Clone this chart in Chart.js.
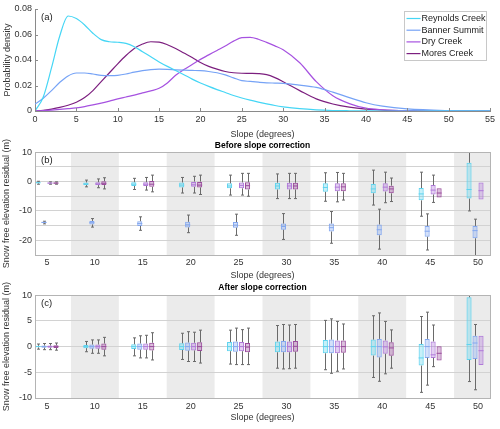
<!DOCTYPE html>
<html>
<head>
<meta charset="utf-8">
<script src="https://cdn.jsdelivr.net/npm/chart.js@4.4.0/dist/chart.umd.min.js"></script>
<style>
  html, body { margin: 0; padding: 0; background: #fff; }
  #wrap { position: relative; width: 500px; height: 429px; overflow: hidden; }
  canvas { position: absolute; left: 0; }
</style>
</head>
<body>
<div id="wrap">
  <canvas id="chartA" width="500" height="140" style="top:0"></canvas>
  <canvas id="chartB" width="500" height="146" style="top:135px"></canvas>
  <canvas id="chartC" width="500" height="148" style="top:281px"></canvas>
</div>
<script>
// ---- panel (a): slope distributions ----
const slope = [0,1,2,3,4,5,6,7,8,9,10,11,12,13,14,15,16,17,18,19,20,21,22,23,24,25,26,27,28,29,30,32,34,36,38,40,42,45,50,55];
const densReynolds = [0,0.011,0.034,0.059,0.0745,0.0725,0.0675,0.061,0.056,0.0543,0.0539,0.053,0.0504,0.0465,0.0425,0.0385,0.035,0.0318,0.0285,0.025,0.022,0.0193,0.0168,0.0145,0.0122,0.0102,0.0085,0.007,0.0056,0.0043,0.0033,0.0018,0.0009,0.0004,0.0002,0.0001,0,0,0,0];
const densBanner = [0.0055,0.010,0.016,0.0225,0.0275,0.0298,0.0298,0.029,0.028,0.0278,0.028,0.029,0.0305,0.0317,0.0325,0.0328,0.0327,0.0323,0.032,0.0318,0.0316,0.031,0.030,0.0283,0.026,0.0238,0.0232,0.0226,0.0221,0.0219,0.0217,0.0203,0.0185,0.0148,0.0105,0.0065,0.0038,0.0016,0.0003,0];
const densDry = [0,0.0003,0.0007,0.0012,0.0018,0.0025,0.0035,0.0048,0.0062,0.0078,0.0095,0.011,0.0125,0.0142,0.0158,0.0178,0.022,0.028,0.0325,0.0365,0.0405,0.044,0.0475,0.051,0.0548,0.0575,0.0577,0.0563,0.0538,0.0511,0.048,0.0378,0.023,0.012,0.0058,0.0022,0.001,0.0003,0,0];
const densMores = [0,0.0005,0.0015,0.0028,0.0045,0.0068,0.0105,0.016,0.023,0.030,0.037,0.0435,0.049,0.0525,0.0543,0.054,0.052,0.049,0.0455,0.042,0.038,0.035,0.0328,0.031,0.030,0.0296,0.0295,0.0293,0.0285,0.0262,0.023,0.016,0.0095,0.0055,0.003,0.0015,0.0007,0.0002,0,0];

// ---- panels (b), (c): residual boxes per slope bin, rows are [low whisker, q1, median, q3, high whisker] ----
const cats = [5,10,15,20,25,30,35,40,45,50];
const shadedCats = [10,20,30,40,50];

const beforeReynolds = [[-0.9,-0.6,-0.4,-0.2,0.1],[-1.8,-1.2,-0.8,-0.3,0.5],[-2.7,-1.5,-0.9,-0.2,1.1],[-3.9,-2.0,-1.2,-0.3,1.4],[-4.6,-2.3,-1.5,-0.6,2.2],[-5.8,-2.7,-1.5,-0.4,2.6],[-6.7,-3.5,-2.0,-0.6,3.0],[-8.0,-4.0,-2.5,-0.8,3.9],[-11.8,-6.4,-4.2,-2.2,3.2],[-10.0,-5.8,-2.7,6.4,12]];
const beforeBanner = [[-14.4,-14.1,-13.9,-13.7,-13.5],[-15.5,-14.6,-14.0,-13.4,-12.6],[-16.6,-15.1,-14.3,-13.5,-12.0],[-17.4,-15.6,-14.7,-13.7,-11.4],[-18.3,-15.7,-14.8,-13.8,-11.1],[-19.7,-16.4,-15.3,-14.3,-10.9],[-21.0,-17.0,-15.7,-14.3,-10.2],[-23.0,-18.3,-16.4,-14.6,-9.4],[-23.3,-18.8,-16.9,-15.1,-11.0],[-26,-19.3,-16.7,-15.1,-12.8]];
const beforeDry = [[-0.9,-0.7,-0.5,-0.3,-0.1],[-2.1,-1.2,-0.8,-0.2,0.9],[-2.9,-1.5,-0.9,-0.2,1.4],[-3.9,-1.8,-1.1,0.0,1.8],[-4.6,-2.3,-1.3,-0.3,2.8],[-5.8,-2.7,-1.5,-0.4,2.8],[-6.9,-3.3,-1.9,-0.6,3.1],[-7.2,-3.4,-1.9,-0.6,3.2],[-7.1,-4.4,-2.9,-1.2,2.2],[-6.1,-6.1,-3.1,-0.3,-0.3]];
const beforeMores = [[-0.9,-0.7,-0.5,-0.3,-0.1],[-2.5,-1.2,-0.6,0.1,1.3],[-3.5,-1.8,-0.9,0.2,2.2],[-4.4,-2.0,-1.2,0.0,2.2],[-5.0,-2.7,-1.4,-0.2,2.8],[-5.8,-2.7,-1.5,-0.4,2.8],[-6.3,-3.3,-1.8,-0.6,2.8],[-6.8,-4.0,-2.5,-1.4,1.2],[-5.4,-5.4,-3.9,-2.3,-2.3],null];

const afterReynolds = [[-0.5,-0.15,0,0.15,0.5],[-1.0,-0.3,0,0.3,1.0],[-1.8,-0.45,0,0.45,1.7],[-2.5,-0.65,0,0.65,2.6],[-3.4,-0.9,0,0.9,3.2],[-4.2,-1.1,0,1.0,4.1],[-4.5,-1.3,0,1.3,5.1],[-6.0,-1.75,0,1.36,6.0],[-8.9,-3.7,-2.2,0.5,5.85],[-6.8,-2.6,0.4,9.6,11]];
const afterBanner = [[-0.6,-0.2,0,0.2,0.6],[-1.3,-0.4,0,0.4,1.3],[-2.2,-0.6,0,0.6,2.1],[-2.9,-0.8,0,0.8,2.9],[-3.5,-1.0,0,1.0,3.6],[-4.35,-1.1,0.05,1.1,4.3],[-5.2,-1.3,0,1.36,5.4],[-6.75,-2.1,0,1.5,6.55],[-7.5,-2.2,0,1.5,6.7],[-8.4,-2.4,0.7,2.1,4.3]];
const afterDry = [[-0.6,-0.2,0,0.2,0.6],[-1.3,-0.4,0,0.4,1.3],[-2.2,-0.6,0,0.6,2.2],[-2.9,-0.75,0,0.75,2.8],[-3.5,-0.9,0,0.9,3.3],[-4.3,-1.1,0,1.0,4.2],[-4.8,-1.3,0,1.2,4.9],[-5.3,-1.4,-0.05,1.2,4.9],[-3.9,-2.2,-1.6,1.0,4.2],[-3.6,-3.6,-0.8,2.1,2.1]];
const afterMores = [[-0.7,-0.25,0,0.25,0.7],[-1.8,-0.6,0,0.6,1.8],[-2.6,-0.75,0,0.75,2.7],[-3.2,-0.85,0,0.85,3.2],[-3.5,-1.1,-0.1,0.7,3.6],[-4.2,-1.0,0.05,1.1,4.3],[-4.35,-1.2,0,1.2,4.4],[-4.2,-1.8,-0.26,0.85,3.25],[-2.7,-2.7,-1.3,0.06,0.06],null];

const sites = ['Reynolds Creek', 'Banner Summit', 'Dry Creek', 'Mores Creek'];
const lineColors = ['#45d6f5', '#76a3f6', '#a652e0', '#7c1f7f'];
const boxEdge = ['#5fd3ee', '#84a8f0', '#b079d9', '#9a4c9d'];
const boxFill = ['rgba(95,211,238,0.35)', 'rgba(132,168,240,0.35)', 'rgba(176,121,217,0.35)', 'rgba(154,76,157,0.35)'];

Chart.defaults.font.family = "'Liberation Sans', Arial, Helvetica, sans-serif";
Chart.defaults.font.size = 9;
Chart.defaults.color = '#333';
Chart.defaults.animation = false;

// small "(a)" style tag in the top left of the plot
const panelTag = {
  id: 'panelTag',
  afterDraw(chart, args, opts) {
    const ctx = chart.ctx, ca = chart.chartArea;
    ctx.save();
    ctx.font = "9.5px 'Liberation Sans', Arial, sans-serif";
    ctx.fillStyle = '#222';
    ctx.textBaseline = 'middle';
    ctx.fillText(opts.text, ca.left + 6, ca.top + 8);
    ctx.restore();
  }
};

// inward tick marks + legend box for panel (a)
const panelAExtras = {
  id: 'panelAExtras',
  afterDraw(chart) {
    const ctx = chart.ctx, ca = chart.chartArea;
    const xs = chart.scales.x, ys = chart.scales.y;
    ctx.save();
    ctx.strokeStyle = '#8a8a8a';
    ctx.lineWidth = 1;
    ctx.beginPath();
    xs.ticks.forEach(t => {
      const px = Math.round(xs.getPixelForValue(t.value)) + 0.5;
      ctx.moveTo(px, ca.bottom); ctx.lineTo(px, ca.bottom - 3);
    });
    ys.ticks.forEach(t => {
      const py = Math.round(ys.getPixelForValue(t.value)) + 0.5;
      ctx.moveTo(ca.left, py); ctx.lineTo(ca.left + 3, py);
    });
    ctx.stroke();

    const bx = ca.right - 85.5, by = ca.top + 2.5, bw = 82, bh = 49;
    ctx.fillStyle = '#fff';
    ctx.fillRect(bx, by, bw, bh);
    ctx.strokeStyle = '#c8c8c8';
    ctx.strokeRect(bx, by, bw, bh);
    ctx.font = "9px 'Liberation Sans', Arial, sans-serif";
    ctx.textBaseline = 'middle';
    chart.data.datasets.forEach((ds, i) => {
      const y = by + 7 + i * 11.7;
      ctx.strokeStyle = ds.borderColor;
      ctx.lineWidth = 1.2;
      ctx.beginPath(); ctx.moveTo(bx + 2, y); ctx.lineTo(bx + 16, y); ctx.stroke();
      ctx.fillStyle = '#222';
      ctx.fillText(ds.label, bx + 17, y);
    });
    ctx.restore();
  }
};

// grey bands behind every other slope bin
const bands = {
  id: 'bands',
  beforeDraw(chart) {
    const ctx = chart.ctx, ca = chart.chartArea, xs = chart.scales.x;
    ctx.save();
    ctx.fillStyle = '#ebebeb';
    shadedCats.forEach(c => {
      const x0 = Math.max(ca.left, xs.getPixelForValue(c - 2.5));
      const x1 = Math.min(ca.right, xs.getPixelForValue(c + 2.5));
      ctx.fillRect(x0, ca.top, x1 - x0, ca.bottom - ca.top);
    });
    ctx.restore();
  },
  afterDraw(chart) {
    const ctx = chart.ctx, ca = chart.chartArea;
    ctx.save();
    ctx.strokeStyle = '#b4b4b4';
    ctx.lineWidth = 1;
    ctx.strokeRect(Math.round(ca.left) + 0.5, Math.round(ca.top) + 0.5, Math.round(ca.right - ca.left), Math.round(ca.bottom - ca.top));
    ctx.restore();
  }
};

// whiskers and median lines drawn on top of the floating bars
const whiskers = {
  id: 'whiskers',
  afterDatasetsDraw(chart) {
    const ctx = chart.ctx, ca = chart.chartArea, ys = chart.scales.y;
    ctx.save();
    ctx.beginPath();
    ctx.rect(ca.left, ca.top, ca.right - ca.left, ca.bottom - ca.top);
    ctx.clip();
    chart.data.datasets.forEach((ds, di) => {
      const meta = chart.getDatasetMeta(di);
      meta.data.forEach((bar, i) => {
        const row = ds.rows[i];
        if (!row) return;
        const x = Math.round(bar.x) + 0.5;
        const w = bar.width;
        const [lo, q1, med, q3, hi] = row.map(v => ys.getPixelForValue(v));
        ctx.strokeStyle = '#6a6a6a';
        ctx.lineWidth = 1;
        ctx.beginPath();
        if (hi < q3 - 0.5) { ctx.moveTo(x, q3); ctx.lineTo(x, hi); ctx.moveTo(x - 1.5, hi); ctx.lineTo(x + 1.5, hi); }
        if (lo > q1 + 0.5) { ctx.moveTo(x, q1); ctx.lineTo(x, lo); ctx.moveTo(x - 1.5, lo); ctx.lineTo(x + 1.5, lo); }
        ctx.stroke();
        ctx.strokeStyle = ds.borderColor;
        ctx.beginPath();
        ctx.moveTo(bar.x - w / 2, med); ctx.lineTo(bar.x + w / 2, med);
        ctx.stroke();
      });
    });
    ctx.restore();
  }
};

new Chart(document.getElementById('chartA'), {
  type: 'line',
  data: {
    datasets: [densReynolds, densBanner, densDry, densMores].map((d, i) => ({
      label: sites[i],
      data: slope.map((s, k) => ({ x: s, y: d[k] })),
      borderColor: lineColors[i],
      borderWidth: 1.2,
      pointRadius: 0,
      cubicInterpolationMode: 'monotone',
      fill: false
    }))
  },
  options: {
    responsive: false,
    layout: { padding: { top: 9, right: 10, left: 0, bottom: 0 } },
    plugins: { legend: { display: false }, tooltip: { enabled: false }, panelTag: { text: '(a)' } },
    scales: {
      x: {
        type: 'linear', min: 0, max: 55,
        ticks: { stepSize: 5, padding: 3, maxRotation: 0 },
        grid: { display: false, drawTicks: false },
        border: { display: true, color: '#8a8a8a' },
        title: { display: true, text: 'Slope (degrees)', padding: { top: 0, bottom: 0 } },
        afterFit: s => { s.height = 29; }
      },
      y: {
        min: 0, max: 0.08,
        ticks: { stepSize: 0.02, padding: 3 },
        grid: { display: false, drawTicks: false },
        border: { display: true, color: '#8a8a8a' },
        title: { display: true, text: 'Probability density', padding: { top: 2, bottom: 0 } },
        afterFit: s => { s.width = 35; }
      }
    }
  },
  plugins: [panelTag, panelAExtras]
});

function boxDatasets(rowsList) {
  return rowsList.map((rows, i) => ({
    label: sites[i],
    rows: rows,
    data: cats.map((c, k) => ({ x: c, y: rows[k] ? [rows[k][1], rows[k][3]] : null })),
    backgroundColor: boxFill[i],
    borderColor: boxEdge[i],
    borderWidth: 1,
    borderSkipped: false,
    categoryPercentage: 0.5,
    barPercentage: 0.85
  }));
}

function boxOptions(title, titlePad, tag, yMin, yMax, yLabelStep, xHeight, tickPad, titleBottom) {
  return {
    responsive: false,
    layout: { padding: { top: 0, right: 10, left: 0, bottom: 0 } },
    plugins: {
      legend: { display: false },
      tooltip: { enabled: false },
      title: { display: true, text: title, fullSize: false, color: '#000', font: { size: 8.5, weight: 'bold' }, padding: titlePad },
      panelTag: { text: tag }
    },
    scales: {
      x: {
        type: 'linear', min: 3.75, max: 51.25, offset: false,
        afterBuildTicks: s => { s.ticks = cats.map(v => ({ value: v })); },
        ticks: { padding: tickPad, maxRotation: 0, autoSkip: false },
        grid: { display: false, drawTicks: false },
        border: { display: false },
        title: { display: true, text: 'Slope (degrees)', padding: { top: 0, bottom: titleBottom } },
        afterFit: s => { s.height = xHeight; }
      },
      y: {
        min: yMin, max: yMax,
        ticks: { stepSize: 5, padding: 3, autoSkip: false, callback: v => (v % yLabelStep === 0 ? v : '') },
        grid: { color: '#d2d2d2', drawTicks: false },
        border: { display: false },
        title: { display: true, text: 'Snow free elevation residual (m)', padding: { top: 1, bottom: 0 } },
        afterFit: s => { s.width = 35; }
      }
    }
  };
}

new Chart(document.getElementById('chartB'), {
  type: 'bar',
  data: { datasets: boxDatasets([beforeReynolds, beforeBanner, beforeDry, beforeMores]) },
  options: boxOptions('Before slope correction', { top: 6, bottom: 1 }, '(b)', -25, 10, 10, 26, 2, 0),
  plugins: [bands, whiskers, panelTag]
});

new Chart(document.getElementById('chartC'), {
  type: 'bar',
  data: { datasets: boxDatasets([afterReynolds, afterBanner, afterDry, afterMores]) },
  options: boxOptions('After slope correction', { top: 2, bottom: 2 }, '(c)', -10, 10, 5, 31, 3, 6.5),
  plugins: [bands, whiskers, panelTag]
});
</script>
</body>
</html>
